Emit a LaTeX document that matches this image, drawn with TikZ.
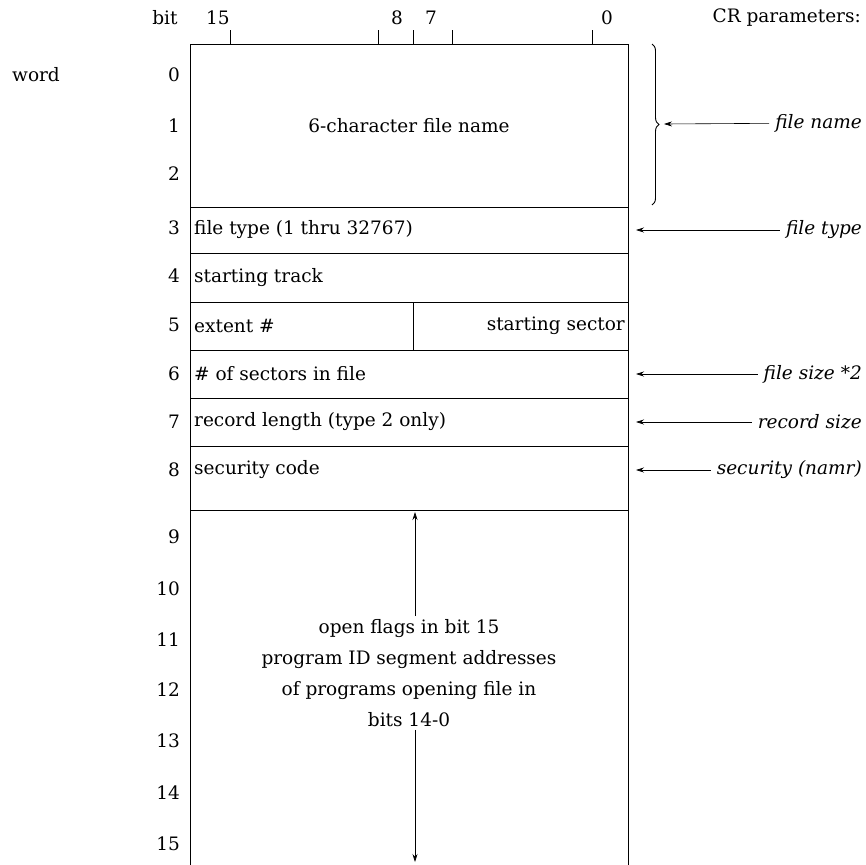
\documentclass[tikz,border=0pt]{standalone}
\usepackage{fontspec}
\setmainfont{DejaVu Serif}
\usetikzlibrary{positioning, calc, arrows.meta, decorations.pathreplacing}

\begin{document}
\begin{tikzpicture}[x=1pt, y=-1pt, font=\fontsize{18.5}{31}\selectfont,
    every node/.style={inner sep=1pt},
    field/.style={anchor=west},
    wordno/.style={anchor=east},
    param/.style={anchor=east, inner sep=6pt, font=\fontsize{18.5}{31}\selectfont\itshape},
    pointer/.style={-{Stealth[length=8pt,width=5pt]}, line width=0.6pt},
    frame/.style={line width=0.9pt}]
\useasboundingbox (0,0) rectangle (865,865);

% record frame
\draw[frame] (190,865) -- (190,44) -- (628,44) -- (628,865);
\foreach \y in {207,253,302,350,398,446,510} {
    \draw[frame] (190,\y) -- (628,\y);
}
\draw[frame] (413,302) -- (413,350);

% bit ruler
\foreach \x in {230,378,413,452,592} {
    \draw (\x,30) -- (\x,44);
}
\node (bit) at (165,18) {bit};
\node (b15) at (218,18) {15};
\node (b8) at (397,18) {8};
\node (b7) at (431,18) {7};
\node (b0) at (607,18) {0};
\node (cr) [anchor=east] at (862,18) {CR parameters:};

% word numbers
\node (word) at (36,75) {word};
\foreach \i/\y in {0/75, 1/126, 2/174, 3/228, 4/276, 5/325, 6/374, 7/422,
    8/470, 9/537, 10/589, 11/640, 12/690, 13/741, 14/793, 15/844} {
    \node[wordno] (w\i) at (181,\y) {\i};
}

% fields
\node (fname) at (409,126) {6-character file name};
\node[field] (ftype) at (193,230) {file type (1 thru 32767)};
\node[field] (strack) at (193,278) {starting track};
\node[field] (extent) at (193,326) {extent \#};
\node[anchor=east] (ssector) at (626,326) {starting sector};
\node[field] (nsect) at (193,374) {\# of sectors in file};
\node[field] (reclen) at (193,422) {record length (type 2 only)};
\node[field] (seccode) at (193,470) {security code};
\node[align=center, inner sep=3pt] (flags) at (409,673)
    {open flags in bit 15\\program ID segment addresses\\of programs opening file in\\bits 14-0};
\coordinate (ftop) at (415,512);
\coordinate (fbot) at (415,862);
\draw[pointer] (flags.north -| ftop) -- (ftop);
\draw[pointer] (flags.south -| fbot) -- (fbot);

% CR parameters
\draw[line width=0.9pt, decorate, decoration={brace, amplitude=7pt}] (652,44) -- (652,205);
\coordinate (tip) at (664,124);
\node[param] (pname) at (868,123) {file name};
\node[param] (ptype) at (868,230) {file type};
\node[param] (psize) at (868,374) {file size *2};
\node[param] (prec) at (868,422) {record size};
\node[param] (psec) at (868,470) {security (namr)};
\draw[pointer] (pname) -- (tip);
\foreach \p in {ptype, psize, prec, psec} {
    \draw[pointer] (\p) -- (\p -| 636,0);
}
\end{tikzpicture}
\end{document}
